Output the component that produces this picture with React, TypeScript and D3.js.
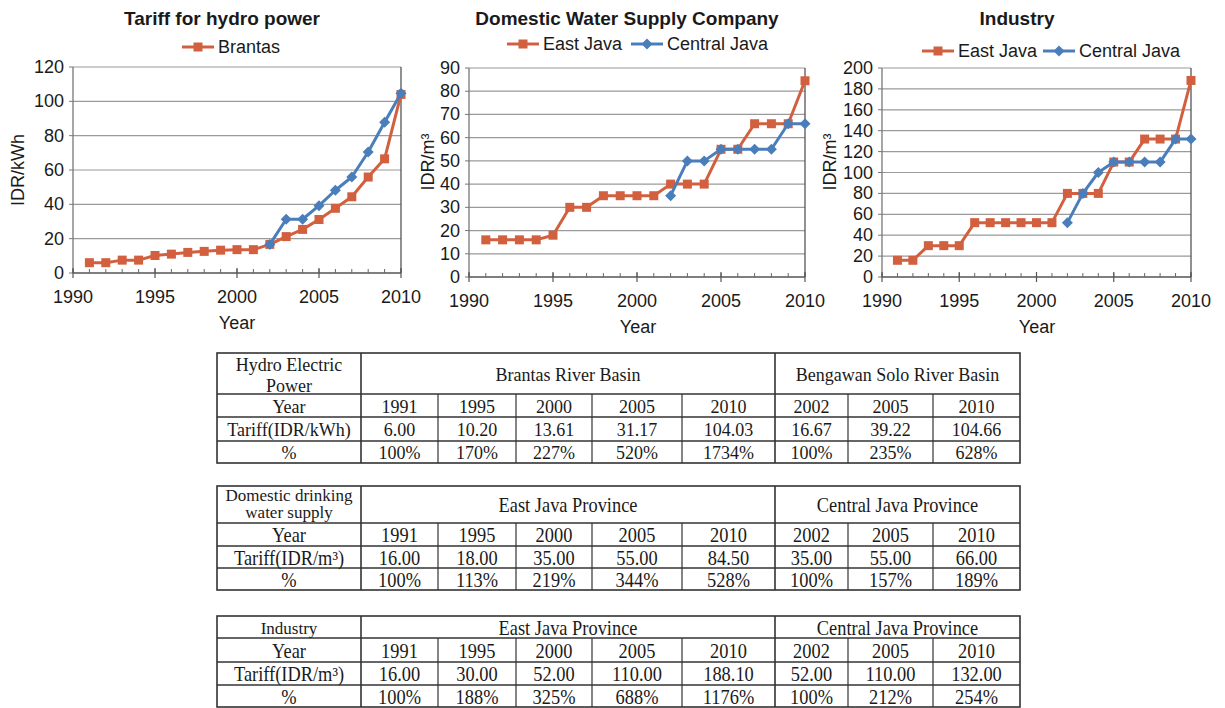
import React from "react";
import * as d3 from "d3";

// ---------- Chart data ----------
const years = [1991, 1992, 1993, 1994, 1995, 1996, 1997, 1998, 1999, 2000, 2001, 2002, 2003, 2004, 2005, 2006, 2007, 2008, 2009, 2010];
const lateYears = [2002, 2003, 2004, 2005, 2006, 2007, 2008, 2009, 2010];

const brantas = [6.0, 6.0, 7.5, 7.5, 10.2, 11.0, 12.0, 12.6, 13.3, 13.61, 13.6, 16.67, 21.2, 25.4, 31.17, 37.7, 44.4, 55.9, 66.5, 104.03];
const bengawanSolo = [16.67, 31.3, 31.3, 39.22, 48.2, 55.9, 70.5, 87.8, 104.66];

const waterEast = [16, 16, 16, 16, 18, 30, 30, 35, 35, 35, 35, 40, 40, 40, 55, 55, 66, 66, 66, 84.5];
const waterCentral = [35, 50, 50, 55, 55, 55, 55, 66, 66];

const industryEast = [16, 16, 30, 30, 30, 52, 52, 52, 52, 52, 52, 80, 80, 80, 110, 110, 132, 132, 132, 188.1];
const industryCentral = [52, 80, 100, 110, 110, 110, 110, 132, 132];

const xTicks = [1990, 1995, 2000, 2005, 2010];
const hydroTicks = [0, 20, 40, 60, 80, 100, 120];
const waterTicks = [0, 10, 20, 30, 40, 50, 60, 70, 80, 90];
const industryTicks = [0, 20, 40, 60, 80, 100, 120, 140, 160, 180, 200];

// ---------- Table data ----------
const tableYears = [1991, 1995, 2000, 2005, 2010, 2002, 2005, 2010];
const hydroTariff = [6.0, 10.2, 13.61, 31.17, 104.03, 16.67, 39.22, 104.66];
const hydroPct = ["100%", "170%", "227%", "520%", "1734%", "100%", "235%", "628%"];
const waterTariff = [16.0, 18.0, 35.0, 55.0, 84.5, 35.0, 55.0, 66.0];
const waterPct = ["100%", "113%", "219%", "344%", "528%", "100%", "157%", "189%"];
const industryTariff = [16.0, 30.0, 52.0, 110.0, 188.1, 52.0, 110.0, 132.0];
const industryPct = ["100%", "188%", "325%", "688%", "1176%", "100%", "212%", "254%"];

const ORANGE = "#D2603F";
const BLUE = "#4A7EBB";
const SANS = "'Liberation Sans', Arial, sans-serif";
const SERIF = "'Liberation Serif', 'Times New Roman', serif";

type Series = { xs: number[]; ys: number[]; color: string; marker: "square" | "diamond" };
type Legend = { label: string; color: string; marker: "square" | "diamond"; x0: number };

function Marker({ kind, x, y, color }: { kind: string; x: number; y: number; color: string }) {
  if (kind === "square") return <rect x={x - 4.5} y={y - 4.5} width={9} height={9} fill={color} />;
  const r = 5.5;
  return <path d={`M${x},${y - r}L${x + r},${y}L${x},${y + r}L${x - r},${y}Z`} fill={color} />;
}

function Chart(props: {
  left: number; right: number; top: number; bottom: number;
  yTicks: number[]; series: Series[]; legends: Legend[]; legendY: number;
  title: string; titleX: number; ylabel: string; ylabelX: number; ylabelY: number; xlabelX: number;
}) {
  const { left, right, top, bottom, yTicks, series, legends, legendY, title, titleX, ylabel, ylabelX, ylabelY, xlabelX } = props;
  const x = d3.scaleLinear().domain([1990, 2010]).range([left, right]);
  const y = d3.scaleLinear().domain([0, yTicks[yTicks.length - 1]]).range([bottom, top]);
  const minor = x.ticks(20);
  return (
    <g>
      <text x={titleX} y={18} textAnchor="middle" dominantBaseline="central" fontFamily={SANS} fontWeight="bold" fontSize={19} fill="#1a1a1a">{title}</text>
      {legends.map((l, i) => (
        <g key={i}>
          <line x1={l.x0} x2={l.x0 + 32} y1={legendY} y2={legendY} stroke={l.color} strokeWidth={3} />
          <Marker kind={l.marker} x={l.x0 + 16} y={legendY} color={l.color} />
          <text x={l.x0 + 36} y={legendY} dominantBaseline="central" fontFamily={SANS} fontSize={18} fill="#1a1a1a">{l.label}</text>
        </g>
      ))}
      {yTicks.filter((t) => t > 0).map((t) => (
        <line key={t} x1={left} x2={right} y1={y(t)} y2={y(t)} stroke="#9a9a9a" strokeWidth={1.2} />
      ))}
      <line x1={right} x2={right} y1={top} y2={bottom} stroke="#555" strokeWidth={1.3} />
      <line x1={left} x2={left} y1={top} y2={bottom} stroke="#777" strokeWidth={1.3} />
      {yTicks.map((t) => (
        <g key={t}>
          <line x1={left - 4} x2={left} y1={y(t)} y2={y(t)} stroke="#777" />
          <text x={left - 9} y={y(t)} textAnchor="end" dominantBaseline="central" fontFamily={SANS} fontSize={18} fill="#1a1a1a">{t}</text>
        </g>
      ))}
      <line x1={left} x2={right} y1={bottom} y2={bottom} stroke="#555" strokeWidth={1.3} />
      {minor.map((t) => (
        <line key={t} x1={x(t)} x2={x(t)} y1={bottom - 4} y2={bottom} stroke="#666" />
      ))}
      {xTicks.map((t) => (
        <g key={t}>
          <line x1={x(t)} x2={x(t)} y1={bottom - 5} y2={bottom + 5} stroke="#555" strokeWidth={1.2} />
          <text x={x(t)} y={bottom + 24} textAnchor="middle" dominantBaseline="central" fontFamily={SANS} fontSize={18} fill="#1a1a1a">{t}</text>
        </g>
      ))}
      <text x={xlabelX} y={bottom + 50} textAnchor="middle" dominantBaseline="central" fontFamily={SANS} fontSize={18} fill="#1a1a1a">Year</text>
      <text transform={`translate(${ylabelX},${ylabelY}) rotate(-90)`} textAnchor="middle" dominantBaseline="central" fontFamily={SANS} fontSize={18} fill="#1a1a1a">{ylabel}</text>
      {series.map((s, i) => {
        const pts = s.xs.map((xv, j) => [xv, s.ys[j]] as [number, number]);
        const line = d3.line<[number, number]>().x((d) => x(d[0])).y((d) => y(d[1]));
        return (
          <g key={i}>
            <path d={line(pts) || ""} fill="none" stroke={s.color} strokeWidth={3} strokeLinejoin="round" />
            {pts.map((p, j) => (
              <Marker key={j} kind={s.marker} x={x(p[0])} y={y(p[1])} color={s.color} />
            ))}
          </g>
        );
      })}
    </g>
  );
}

const colEdges = [217, 361, 438, 516, 592, 682, 775, 848, 933, 1020];

function Table(props: {
  rows: number[]; headerLines: { text: string; y: number; size: number }[];
  groups: string[]; tariffLabel: string; tariff: number[]; pct: string[]; condensed: boolean;
}) {
  const { rows, headerLines, groups, tariffLabel, tariff, pct, condensed } = props;
  const sx = condensed ? 0.92 : 1;
  const fs = condensed ? 20 : 18;
  const T = (key: string | number, cx: number, cy: number, s: string, size = fs, scale = sx) => (
    <text key={key} transform={`translate(${cx},${cy}) scale(${scale},1)`} textAnchor="middle" dominantBaseline="central" fontFamily={SERIF} fontSize={size} fill="#1a1a1a">{s}</text>
  );
  const mid = (a: number, b: number) => (a + b) / 2;
  const bodyRows: string[][] = [
    ["Year", ...tableYears.map(String)],
    [tariffLabel, ...tariff.map((v) => v.toFixed(2))],
    ["%", ...pct],
  ];
  const stroke = "#333";
  return (
    <g>
      <rect x={colEdges[0]} y={rows[0]} width={colEdges[colEdges.length - 1] - colEdges[0]} height={rows[rows.length - 1] - rows[0]} fill="none" stroke={stroke} strokeWidth={1.6} />
      {rows.slice(1, -1).map((r, i) => (
        <line key={i} x1={colEdges[0]} x2={colEdges[colEdges.length - 1]} y1={r} y2={r} stroke={stroke} strokeWidth={1.4} />
      ))}
      {colEdges.slice(1, -1).map((c, i) => {
        const major = c === colEdges[1] || c === colEdges[6];
        return <line key={i} x1={c} x2={c} y1={major ? rows[0] : rows[1]} y2={rows[rows.length - 1]} stroke={stroke} strokeWidth={major ? 1.6 : 1.2} />;
      })}
      {headerLines.map((h, i) => T("h" + i, mid(colEdges[0], colEdges[1]), h.y, h.text, h.size, 1))}
      {T("g0", mid(colEdges[1], colEdges[6]), mid(rows[0], rows[1]) + 1, groups[0], fs)}
      {T("g1", mid(colEdges[6], colEdges[9]), mid(rows[0], rows[1]) + 1, groups[1], fs)}
      {bodyRows.map((row, ri) =>
        row.map((cell, ci) => T(`r${ri}c${ci}`, mid(colEdges[ci], colEdges[ci + 1]), mid(rows[ri + 1], rows[ri + 2]) + 1, cell))
      )}
    </g>
  );
}

export default function App() {
  return (
    <svg width={1225} height={708} style={{ position: "absolute", left: 0, top: 0, background: "#fff" }}>
      <rect width={1225} height={708} fill="#fff" />
      <Chart
        left={73} right={401} top={67} bottom={273} yTicks={hydroTicks}
        series={[
          { xs: years, ys: brantas, color: ORANGE, marker: "square" },
          { xs: lateYears, ys: bengawanSolo, color: BLUE, marker: "diamond" },
        ]}
        legends={[{ label: "Brantas", color: ORANGE, marker: "square", x0: 182 }]}
        legendY={47} title="Tariff for hydro power" titleX={222}
        ylabel="IDR/kWh" ylabelX={18} ylabelY={170} xlabelX={237}
      />
      <Chart
        left={469} right={805} top={68} bottom={277} yTicks={waterTicks}
        series={[
          { xs: years, ys: waterEast, color: ORANGE, marker: "square" },
          { xs: lateYears, ys: waterCentral, color: BLUE, marker: "diamond" },
        ]}
        legends={[
          { label: "East Java", color: ORANGE, marker: "square", x0: 507 },
          { label: "Central Java", color: BLUE, marker: "diamond", x0: 631 },
        ]}
        legendY={44} title="Domestic Water Supply Company" titleX={627}
        ylabel="IDR/m³" ylabelX={428} ylabelY={162} xlabelX={638}
      />
      <Chart
        left={882} right={1191} top={68} bottom={277} yTicks={industryTicks}
        series={[
          { xs: years, ys: industryEast, color: ORANGE, marker: "square" },
          { xs: lateYears, ys: industryCentral, color: BLUE, marker: "diamond" },
        ]}
        legends={[
          { label: "East Java", color: ORANGE, marker: "square", x0: 922 },
          { label: "Central Java", color: BLUE, marker: "diamond", x0: 1043 },
        ]}
        legendY={51} title="Industry" titleX={1017}
        ylabel="IDR/m³" ylabelX={830} ylabelY={162} xlabelX={1037}
      />
      <Table
        rows={[353, 394, 417, 441, 463]}
        headerLines={[{ text: "Hydro Electric", y: 365, size: 18 }, { text: "Power", y: 386, size: 18 }]}
        groups={["Brantas River Basin", "Bengawan Solo River Basin"]}
        tariffLabel="Tariff(IDR/kWh)" tariff={hydroTariff} pct={hydroPct} condensed={false}
      />
      <Table
        rows={[486, 523, 546, 568, 590]}
        headerLines={[{ text: "Domestic drinking", y: 495, size: 17 }, { text: "water supply", y: 512, size: 17 }]}
        groups={["East Java Province", "Central Java Province"]}
        tariffLabel="Tariff(IDR/m³)" tariff={waterTariff} pct={waterPct} condensed={true}
      />
      <Table
        rows={[616, 638, 662, 685, 707]}
        headerLines={[{ text: "Industry", y: 628, size: 17 }]}
        groups={["East Java Province", "Central Java Province"]}
        tariffLabel="Tariff(IDR/m³)" tariff={industryTariff} pct={industryPct} condensed={true}
      />
    </svg>
  );
}
